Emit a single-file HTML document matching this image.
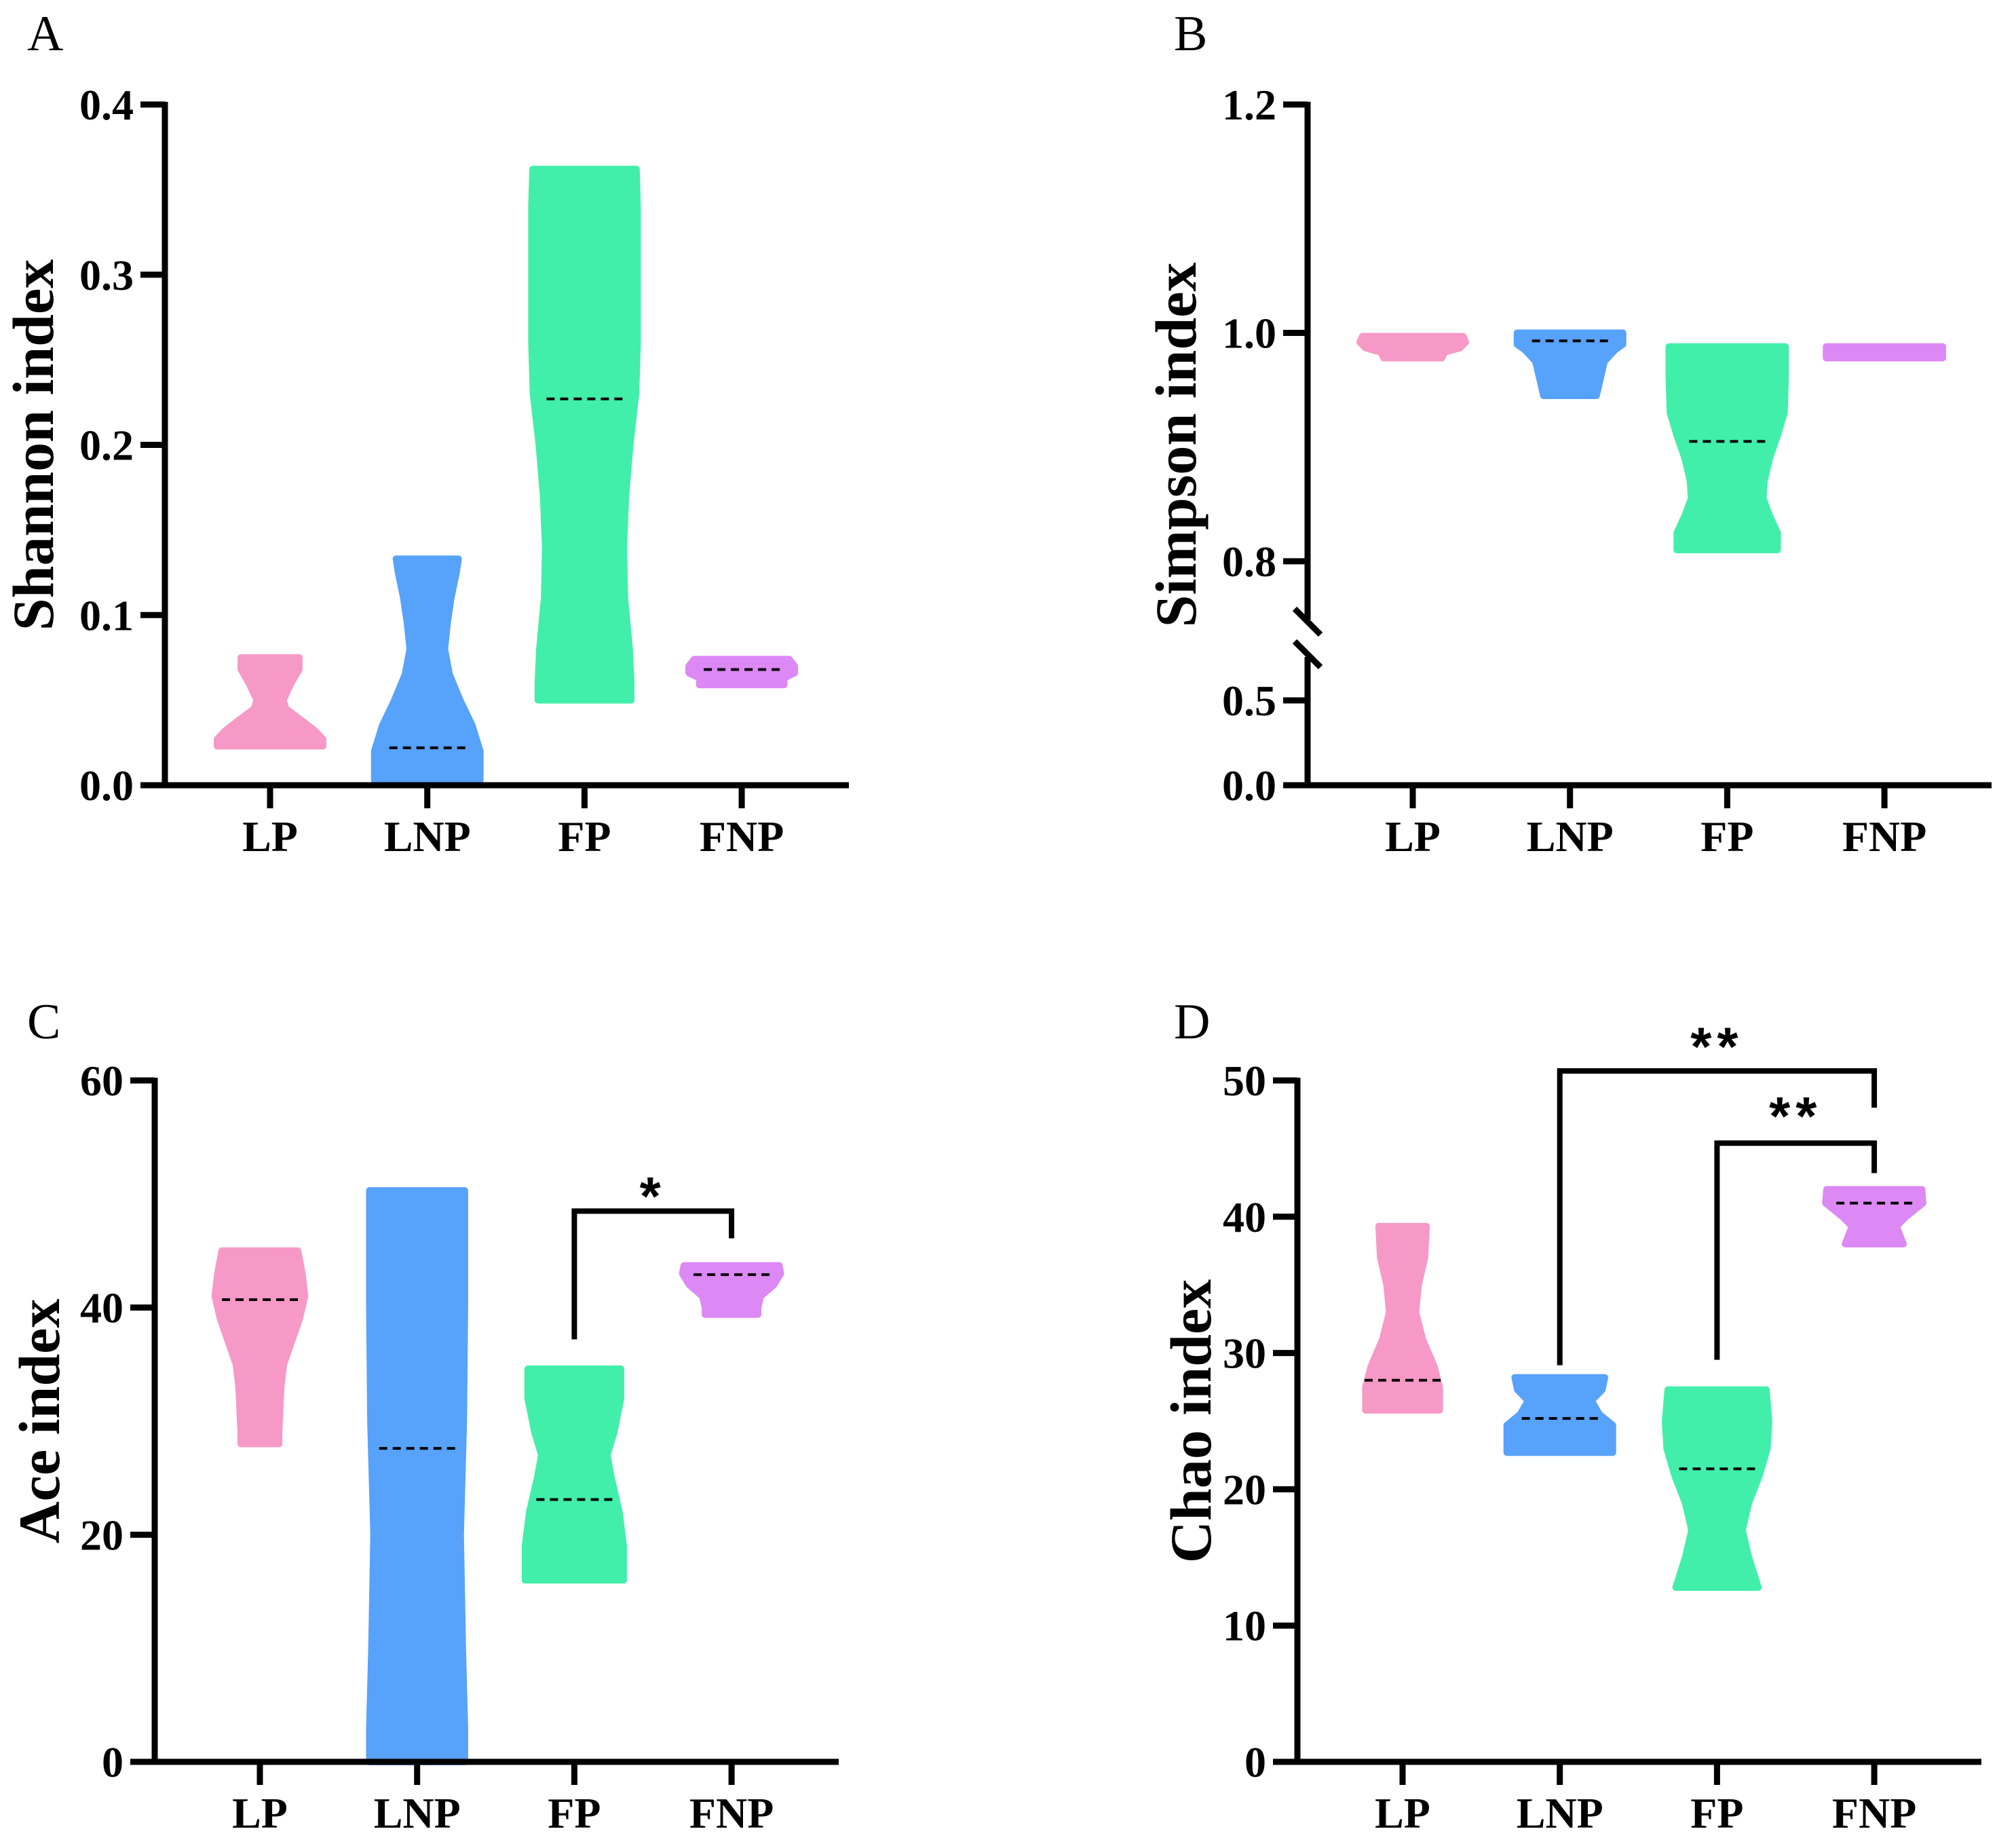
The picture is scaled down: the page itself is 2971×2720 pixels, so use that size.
<!DOCTYPE html>
<html><head><meta charset="utf-8"><style>
html,body{margin:0;padding:0;background:#fff;}
svg{display:block;}
text{font-family:"Liberation Serif",serif;}
</style></head><body>
<svg id="fig" width="2971" height="2720" viewBox="0 0 2971 2720"></svg>
<script>
const categories = ["LP","LNP","FP","FNP"];
const colors = ["#f799c6","#57a2fb","#41efaa","#dc88f5"];
// violin profiles: [value, relative half-width]
const shannonLP  = [[0.075,0.55],[0.068,0.55],[0.06,0.4],[0.05,0.25],[0.045,0.3],[0.038,0.6],[0.032,0.85],[0.027,1.0],[0.023,1.0]];
const shannonLNP = [[0.133,0.59],[0.125,0.55],[0.11,0.45],[0.095,0.38],[0.08,0.33],[0.065,0.42],[0.05,0.62],[0.035,0.85],[0.02,1.0],[0.003,1.0]];
const shannonFP  = [[0.362,0.98],[0.34,1.0],[0.3,1.0],[0.26,1.0],[0.23,0.97],[0.2,0.86],[0.17,0.78],[0.14,0.74],[0.11,0.76],[0.08,0.85],[0.06,0.88],[0.05,0.88]];
const shannonFNP = [[0.074,0.9],[0.07,1.0],[0.066,1.0],[0.063,0.8],[0.059,0.8]];
const shannonMedians = [null,0.022,0.227,0.068];
const simpsonLP  = [[0.997,0.95],[0.992,1.0],[0.987,0.9],[0.983,0.6],[0.978,0.55]];
const simpsonLNP = [[1.0,1.0],[0.99,1.0],[0.985,0.85],[0.975,0.65],[0.965,0.6],[0.955,0.55],[0.945,0.5]];
const simpsonFP  = [[0.988,1.1],[0.96,1.1],[0.93,1.08],[0.91,0.95],[0.89,0.8],[0.87,0.7],[0.855,0.68],[0.84,0.8],[0.825,0.95],[0.81,0.95]];
const simpsonFNP = [[0.988,1.1],[0.978,1.1]];
const simpsonMedians = [null,0.993,0.905,null];
const aceLP  = [[45,0.72],[43,0.8],[41,0.85],[39,0.75],[37,0.6],[35,0.45],[33,0.4],[31,0.38],[29,0.36],[28,0.36]];
const aceLNP = [[50.3,0.9],[40,0.9],[30,0.88],[20,0.82],[10,0.86],[3,0.9],[0,0.9]];
const aceFP  = [[34.6,0.88],[32,0.88],[29,0.75],[27,0.62],[25,0.7],[22,0.85],[19,0.93],[16,0.93]];
const aceFNP = [[43.7,0.9],[43,0.93],[42,0.8],[41,0.55],[40,0.5],[39.4,0.5]];
const aceMedians = [40.7,27.6,23.1,42.9];
const chaoLP  = [[39.3,0.45],[37,0.42],[35,0.3],[33,0.25],[31,0.38],[29,0.6],[27.5,0.7],[25.8,0.7]];
const chaoLNP = [[28.2,0.85],[27.3,0.8],[26.5,0.6],[25.5,0.75],[24.7,1.0],[22.7,1.0]];
const chaoFP  = [[27.3,0.93],[25,0.98],[23,0.95],[21,0.8],[19,0.6],[17,0.48],[15,0.6],[12.8,0.78]];
const chaoFNP = [[42,0.9],[41,0.92],[40,0.6],[39.3,0.42],[38.5,0.5],[38,0.55]];
const chaoMedians = [28,25.2,21.5,41];
const shannonTicks = [0,0.1,0.2,0.3,0.4];
const shannonTickLabels = ["0.0","0.1","0.2","0.3","0.4"];
const simpsonTicks = [0,0.5,0.8,1.0,1.2];
const simpsonTickLabels = ["0.0","0.5","0.8","1.0","1.2"];
const aceTicks = [0,20,40,60];
const aceTickLabels = ["0","20","40","60"];
const chaoTicks = [0,10,20,30,40,50];
const chaoTickLabels = ["0","10","20","30","40","50"];
// significance brackets: [fromGroup, toGroup, leftBottom, top, rightBottom, starValue, label]
const aceBrackets = [[2,3,37.2,48.5,46.1,50.8,"*"]];
const chaoBrackets = [[1,3,29.1,50.7,48.0,53.3,"**"],[2,3,29.5,45.4,43.2,48.2,"**"]];

const NS="http://www.w3.org/2000/svg";
const svg=document.getElementById('fig');
function el(tag,attrs,parent){const e=document.createElementNS(NS,tag);for(const k in attrs)e.setAttribute(k,attrs[k]);(parent||svg).appendChild(e);return e;}

function panel(cfg){
  const g=el('g',{});
  
  
  const ax=cfg.axisX, yb=cfg.y0px, len=1008, maxHalf=78;
  const xPos=i=>ax+155+i*231.7;
  const Y=cfg.yScale;
  const lt=el('text',{x:cfg.letterX,y:cfg.letterY,'font-size':74},g);
  lt.textContent=cfg.letter;
  
  
  cfg.violins.forEach((prof,i)=>{
    const cx=xPos(i);
    const right=prof.map(p=>[cx+p[1]*maxHalf,Y(p[0])]);
    const left=prof.slice().reverse().map(p=>[cx-p[1]*maxHalf,Y(p[0])]);
    const pts=right.concat(left).map(p=>p[0].toFixed(1)+','+p[1].toFixed(1)).join(' ');
    const v=el('polygon',{points:pts,fill:colors[i],stroke:colors[i],'stroke-width':10,'stroke-linejoin':'round'},g);
    
    
    const m=cfg.medians[i];
    if(m!==null){
      const ml=el('line',{x1:cx-56,x2:cx+56,y1:Y(m),y2:Y(m),stroke:'#000','stroke-width':4,'stroke-dasharray':'12 8'},g);
      
      
    }
  });
  cfg.axisSegs.forEach(s=>{
    const a=el('line',{x1:ax,x2:ax,y1:s[0],y2:s[1],stroke:'#000','stroke-width':9},g);
    
    
  });
  const xa=el('line',{x1:ax-36,x2:ax+len,y1:yb,y2:yb,stroke:'#000','stroke-width':9},g);
  
  
  cfg.ticks.forEach((t,k)=>{
    const y=Y(t);
    const tl=el('line',{x1:ax-36,x2:ax,y1:y,y2:y,stroke:'#000','stroke-width':9},g);
    
    
    const tx=el('text',{x:ax-46,y:y+22,'font-size':64,'font-weight':'bold','text-anchor':'end'},g);
    tx.textContent=cfg.tickLabels[k];
    
    
  });
  categories.forEach((c,i)=>{
    const x=xPos(i);
    const tl=el('line',{x1:x,x2:x,y1:yb,y2:yb+34,stroke:'#000','stroke-width':9},g);
    
    
    const tx=el('text',{x:x,y:yb+97,'font-size':64,'font-weight':'bold','text-anchor':'middle'},g);
    tx.textContent=c;
    
    
  });
  const midY=(cfg.axisTop+yb)/2;
  const tt=el('text',{x:0,y:0,'font-size':86,'font-weight':'bold','text-anchor':'middle',transform:`translate(${cfg.titleX},${midY}) rotate(-90)`},g);
  tt.textContent=cfg.title;
  
  
  (cfg.brackets||[]).forEach(b=>{
    const x1=xPos(b[0]),x2=xPos(b[1]);
    const p=el('polyline',{points:`${x1},${Y(b[2])} ${x1},${Y(b[3])} ${x2},${Y(b[3])} ${x2},${Y(b[4])}`,fill:'none',stroke:'#000','stroke-width':8},g);
    
    
    const s=el('text',{x:(x1+x2)/2,y:Y(b[5])+44,'font-size':80,'font-weight':'bold','text-anchor':'middle','letter-spacing':8,style:'font-family:"Liberation Sans",sans-serif'},g);
    s.textContent=b[6];
    
    
  });
  if(cfg.breakMarks){
    cfg.breakMarks.forEach(m=>{
      const l=el('line',{x1:m[0],y1:m[1],x2:m[2],y2:m[3],stroke:'#000','stroke-width':9},g);
      
      
    });
  }
}

panel({name:'panel-a-shannon',letter:'A',letterX:40,letterY:74,axisX:243,y0px:1157,axisTop:154,titleX:78,
  yScale:v=>1157-v*2507.5,ticks:shannonTicks,tickLabels:shannonTickLabels,axisSegs:[[150,1161]],
  violins:[shannonLP,shannonLNP,shannonFP,shannonFNP],medians:shannonMedians,title:'Shannon index'});
panel({name:'panel-b-simpson',letter:'B',letterX:1730,letterY:74,axisX:1927,y0px:1157,axisTop:154,titleX:1762,
  yScale:v=>v>=0.7?827-(v-0.8)*1682.5:1157-v*250,ticks:simpsonTicks,tickLabels:simpsonTickLabels,
  axisSegs:[[150,913],[968,1161]],breakMarks:[[1908,897],[1908,945]].map(p=>[p[0],p[1],p[0]+38,p[1]+38]),
  violins:[simpsonLP,simpsonLNP,simpsonFP,simpsonFNP],medians:simpsonMedians,title:'Simpson index'});
panel({name:'panel-c-ace',letter:'C',letterX:40,letterY:1530,axisX:228,y0px:2596,axisTop:1592,titleX:87,
  yScale:v=>2596-v*16.733,ticks:aceTicks,tickLabels:aceTickLabels,axisSegs:[[1588,2600]],
  violins:[aceLP,aceLNP,aceFP,aceFNP],medians:aceMedians,title:'Ace index',brackets:aceBrackets});
panel({name:'panel-d-chao',letter:'D',letterX:1730,letterY:1530,axisX:1912,y0px:2596,axisTop:1592,titleX:1784,
  yScale:v=>2596-v*20.08,ticks:chaoTicks,tickLabels:chaoTickLabels,axisSegs:[[1588,2600]],
  violins:[chaoLP,chaoLNP,chaoFP,chaoFNP],medians:chaoMedians,title:'Chao index',brackets:chaoBrackets});
</script>
</body></html>
